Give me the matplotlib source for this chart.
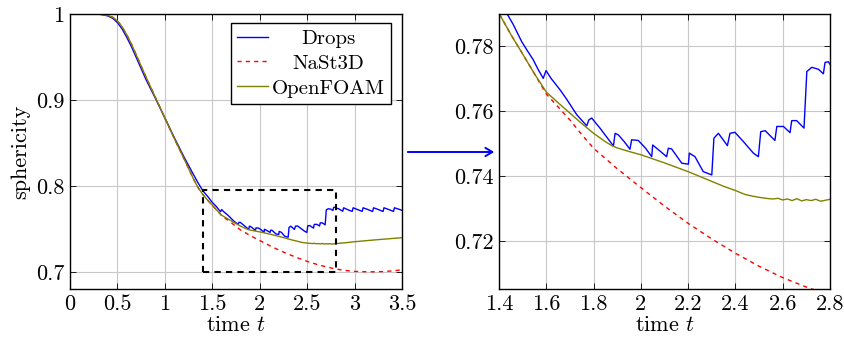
import matplotlib
matplotlib.use('Agg')
import matplotlib.pyplot as plt
from matplotlib.patches import FancyArrowPatch

plt.rcParams['font.family'] = ['cmr10', 'DejaVu Serif']
plt.rcParams['mathtext.fontset'] = 'cm'
plt.rcParams['axes.formatter.use_mathtext'] = True
plt.rcParams['font.size'] = 16

# shared start of NaSt3D and OpenFOAM (identical up to t ~ 1.55)
t_early = [0, 0.1, 0.2, 0.3, 0.35, 0.4, 0.45, 0.5, 0.55, 0.6, 0.65, 0.7, 0.8, 0.9,
           1.0, 1.1, 1.2, 1.3, 1.35, 1.4, 1.45, 1.5, 1.55]
s_early = [1.0, 1.0, 1.0, 0.9998, 0.9993, 0.9983, 0.9962, 0.992, 0.985, 0.9755, 0.9645,
           0.952, 0.927, 0.903, 0.879, 0.855, 0.832, 0.8085, 0.798, 0.790, 0.7835,
           0.7775, 0.7714]

t_foam = [1.6, 1.65, 1.7, 1.75, 1.8, 1.85, 1.88, 1.9, 1.95, 2.0, 2.1, 2.2, 2.25, 2.3,
          2.35, 2.4, 2.44, 2.47, 2.5, 2.52, 2.54, 2.56, 2.58, 2.6, 2.62, 2.64, 2.66,
          2.68, 2.7, 2.72, 2.74, 2.76, 2.78, 2.8, 2.9, 3.0, 3.1, 3.2, 3.3, 3.4, 3.5]
s_foam = [0.7658, 0.7625, 0.7593, 0.7561, 0.7531, 0.7505, 0.7492, 0.7486, 0.7475,
          0.7465, 0.7440, 0.7413, 0.7398, 0.7383, 0.7368, 0.7355, 0.7343, 0.7338,
          0.7334, 0.7332, 0.7330, 0.7329, 0.7331, 0.7326, 0.7329, 0.7324, 0.7330,
          0.7323, 0.7327, 0.7324, 0.7328, 0.7322, 0.7325, 0.7328, 0.7338, 0.7350,
          0.7360, 0.7370, 0.7379, 0.7388, 0.7397]

t_nast = [1.6, 1.65, 1.7, 1.75, 1.8, 1.9, 2.0, 2.1, 2.2, 2.3, 2.4, 2.5, 2.6, 2.7, 2.8,
          2.9, 3.0, 3.1, 3.2, 3.3, 3.4, 3.5]
s_nast = [0.7652, 0.7612, 0.7572, 0.7527, 0.7485, 0.7422, 0.7364, 0.7307, 0.7254,
          0.7206, 0.7162, 0.7122, 0.7087, 0.7058, 0.7033, 0.7016, 0.7005, 0.7001,
          0.7000, 0.7003, 0.7011, 0.7023]

t_drops = [0, 0.1, 0.2, 0.3, 0.35, 0.4, 0.45, 0.5, 0.55, 0.6, 0.65, 0.7, 0.8, 0.9, 1.0,
           1.1, 1.2, 1.3, 1.35, 1.4, 1.433, 1.46, 1.496, 1.52, 1.545, 1.565, 1.587,
           1.599, 1.62, 1.658, 1.686, 1.729, 1.771, 1.78, 1.792, 1.827, 1.855, 1.884,
           1.891, 1.905, 1.93, 1.954, 1.961, 1.989, 2.02, 2.046, 2.05, 2.08, 2.109,
           2.116, 2.13, 2.173, 2.201, 2.205, 2.229, 2.264, 2.3, 2.309, 2.328, 2.366,
           2.377, 2.398, 2.433, 2.476, 2.497, 2.507, 2.526, 2.567, 2.575, 2.603,
           2.631, 2.638, 2.659, 2.69, 2.702, 2.723, 2.751, 2.772, 2.779, 2.793, 2.803,
           2.83, 2.875, 2.885, 2.93, 2.975, 2.985, 3.03, 3.08, 3.09, 3.14, 3.19, 3.2,
           3.25, 3.3, 3.31, 3.36, 3.41, 3.42, 3.47, 3.5]
s_drops = [1.0, 1.0, 1.0, 0.9998, 0.999, 0.9977, 0.995, 0.990, 0.9825, 0.9725, 0.9615,
           0.949, 0.924, 0.902, 0.879, 0.856, 0.834, 0.8135, 0.8035, 0.7945, 0.790,
           0.7866, 0.7813, 0.7785, 0.7757, 0.7728, 0.7700, 0.7724, 0.7700, 0.7665,
           0.7636, 0.7588, 0.7554, 0.7572, 0.7578, 0.7547, 0.7520, 0.7492, 0.7531,
           0.7526, 0.7505, 0.7482, 0.7511, 0.7509, 0.7485, 0.7459, 0.7495, 0.7477,
           0.7459, 0.7485, 0.7483, 0.7439, 0.7436, 0.7470, 0.7459, 0.7413, 0.7403,
           0.7516, 0.7531, 0.7493, 0.7531, 0.7534, 0.7506, 0.7470, 0.7459, 0.7536,
           0.7539, 0.7509, 0.7552, 0.7552, 0.7533, 0.7570, 0.7570, 0.7547, 0.7721,
           0.7734, 0.7728, 0.7714, 0.7749, 0.7751, 0.7740, 0.7735, 0.7705, 0.7745,
           0.7722, 0.7703, 0.7745, 0.7725, 0.7703, 0.7745, 0.7725, 0.7702, 0.7745,
           0.7725, 0.7702, 0.7745, 0.7725, 0.7703, 0.7745, 0.7727, 0.7715]

# zoom window shown on the right
zoom_t = [1.4, 2.8]
zoom_s = [0.7, 0.795]

left_xticks = [0, 0.5, 1, 1.5, 2, 2.5, 3, 3.5]
left_xlabels = ['0', '0.5', '1', '1.5', '2', '2.5', '3', '3.5']
left_yticks = [0.7, 0.8, 0.9, 1]
left_ylabels = ['0.7', '0.8', '0.9', '1']
right_xticks = [1.4, 1.6, 1.8, 2, 2.2, 2.4, 2.6, 2.8]
right_xlabels = ['1.4', '1.6', '1.8', '2', '2.2', '2.4', '2.6', '2.8']
right_yticks = [0.72, 0.74, 0.76, 0.78]
right_ylabels = ['0.72', '0.74', '0.76', '0.78']

t_nast_full = t_early + t_nast
s_nast_full = s_early + s_nast
t_foam_full = t_early + t_foam
s_foam_full = s_early + s_foam

fig = plt.figure(figsize=(8.44, 3.41), dpi=100)
ax1 = fig.add_axes([70/844, 52/341, 332/844, 275/341])
ax2 = fig.add_axes([499/844, 52/341, 331/844, 275/341])

for ax in (ax1, ax2):
	ax.plot(t_drops, s_drops, color='#0000ff', lw=1.0, label='Drops')
	ax.plot(t_nast_full, s_nast_full, color='#ff0000', lw=1.0, ls=(0, (3, 3)), label='NaSt3D')
	ax.plot(t_foam_full, s_foam_full, color='#808000', lw=1.0, label='OpenFOAM')
	ax.grid(True, color='#c8c8c8', lw=0.8)
	ax.set_axisbelow(True)
	ax.tick_params(direction='in', top=True, right=True, length=4, width=0.6, labelsize=16, pad=4)
	for sp in ax.spines.values():
		sp.set_linewidth(1.0)
	ax.set_xlabel('time $t$', fontsize=16, labelpad=1)

ax1.set_xlim(0, 3.5)
ax1.set_ylim(0.68, 1.0)
ax1.set_xticks(left_xticks, left_xlabels)
ax1.set_yticks(left_yticks, left_ylabels)
ax1.set_ylabel('sphericity', fontsize=16, labelpad=4)

ax2.set_xlim(zoom_t[0], zoom_t[1])
ax2.set_ylim(0.7052, 0.7898)
ax2.set_xticks(right_xticks, right_xlabels)
ax2.set_yticks(right_yticks, right_ylabels)

# dashed rectangle marking the zoomed region
ax1.plot([zoom_t[0], zoom_t[1], zoom_t[1], zoom_t[0], zoom_t[0]],
         [zoom_s[0], zoom_s[0], zoom_s[1], zoom_s[1], zoom_s[0]],
         color='black', lw=1.5, ls=(0, (3, 2.5)), zorder=5)

leg = ax1.legend(loc='upper right', bbox_to_anchor=(0.967, 0.967), fancybox=False,
                 edgecolor='black', framealpha=1, fontsize=15, borderpad=0.3,
                 handlelength=1.45, handletextpad=0.2, labelspacing=0.3, borderaxespad=0)
leg.get_frame().set_linewidth(1.0)

# center legend entries like pgfplots does
fig.canvas.draw()
renderer = fig.canvas.get_renderer()
texts = leg.get_texts()
widths = [t.get_window_extent(renderer).width for t in texts]
wmax = max(widths)
for t, w in zip(texts, widths):
	t.set_position(((wmax - w) / 2, 0))

arrow = FancyArrowPatch((405/844, 1 - 152/341), (497/844, 1 - 152/341),
                        transform=fig.transFigure, arrowstyle='->,head_length=5,head_width=3',
                        color='#0000ff', lw=1.4)
fig.add_artist(arrow)

plt.savefig('out.png', dpi=100)
